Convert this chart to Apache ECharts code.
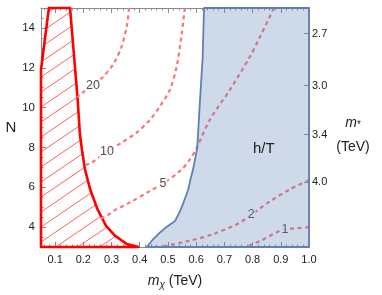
<!DOCTYPE html>
<html><head><meta charset="utf-8">
<script src="https://cdn.jsdelivr.net/npm/echarts@6/dist/echarts.min.js"></script>
<style>html,body{margin:0;padding:0;background:#fff}#c{width:382px;height:295px}</style>
</head><body><div id="c"></div>
<script>
// ---- data ----
const xTicks = [0.1,0.2,0.3,0.4,0.5,0.6,0.7,0.8,0.9,1.0];
const xMinor = [0.06,0.08,0.12,0.14,0.16,0.18,0.22,0.24,0.26,0.28,0.32,0.34,0.36,0.38,0.42,0.44,0.46,0.48,0.52,0.54,0.56,0.58,0.62,0.64,0.66,0.68,0.72,0.74,0.76,0.78,0.82,0.84,0.86,0.88,0.92,0.94,0.96,0.98];
const yTicks = [4,6,8,10,12,14];
const yMinor = [3.5,4.5,5,5.5,6.5,7,7.5,8.5,9,9.5,10.5,11,11.5,12.5,13,13.5,14.5];
const mStarLabels = [2.7,3.0,3.4,4.0];
const mStarN = [13.72,11.11,8.65,6.25]; // N positions of m* ticks

// excluded region (red hatched)
const redRegion = [[0.05,3],[0.05,11.9],[0.078,15],[0.153,15],[0.18,10.4],[0.188,8.65],[0.195,7.9],[0.206,6.9],[0.224,5.9],[0.25,4.9],[0.28,4.07],[0.312,3.57],[0.354,3.15],[0.395,3.0]];
// h/T region (blue)
const blueRegion = [[0.628,15],[0.623,12.5],[0.612,10],[0.604,8],[0.596,7.4],[0.589,6.9],[0.58,6.4],[0.572,5.9],[0.562,5.5],[0.555,5.23],[0.543,4.8],[0.532,4.5],[0.525,4.3],[0.505,4.1],[0.49,3.95],[0.472,3.73],[0.448,3.4],[0.425,3.0],[1.0,3.0],[1.0,15]];

// contour lines
const c20 = [[0.362,15],[0.355,14.15],[0.334,13.0],[0.305,12.15],[0.27,11.55],[0.234,11.1],[0.188,10.65],[0.178,10.5]];
const c10 = [[0.56,15],[0.549,13.73],[0.531,12.07],[0.507,10.9],[0.472,10.07],[0.437,9.4],[0.389,8.74],[0.337,8.25],[0.284,7.8],[0.231,7.25],[0.206,7.1]];
const c5 = [[0.876,15],[0.824,13.49],[0.791,12.57],[0.72,10.9],[0.649,9.4],[0.602,7.99],[0.578,7.4],[0.543,6.82],[0.482,6.19],[0.437,5.82],[0.366,5.24],[0.312,4.85],[0.283,4.57],[0.26,4.42]];
const c2 = [[1.0,6.35],[0.933,5.9],[0.862,5.3],[0.815,4.82],[0.795,4.65],[0.756,4.23],[0.661,3.65],[0.578,3.32],[0.472,3.0]];
const c1 = [[1.0,4.0],[0.95,3.93],[0.915,3.9],[0.886,3.74],[0.827,3.3],[0.773,3.0]];
const contourLabels = [[0.234,11.1,'20'],[0.284,7.8,'10'],[0.482,6.19,'5'],[0.795,4.65,'2'],[0.915,3.9,'1']];

// ---- chart ----
const chart = echarts.init(document.getElementById('c'), null, {renderer:'canvas'});
const FONT = 'Liberation Sans, Arial, sans-serif';
const frameCol = '#8a8a8a';

// hatch pattern
const pc = document.createElement('canvas');
pc.width = 22; pc.height = 15;
const g = pc.getContext('2d');
g.strokeStyle = 'rgba(255,60,60,0.9)'; g.lineWidth = 0.9;
g.beginPath();
g.moveTo(-2, 15 + 2*15/22); g.lineTo(24, -2*15/22);
g.moveTo(-2-22, 15 + 2*15/22); g.lineTo(24-22, -2*15/22);
g.moveTo(-2+22, 15 + 2*15/22); g.lineTo(24+22, -2*15/22);
g.stroke();

function polySeries(name, pts, style, z){
  return {
    type:'custom', name, z, silent:true,
    coordinateSystem:'cartesian2d', xAxisIndex:0, yAxisIndex:0,
    data:[0], clip:false,
    renderItem:(params, api)=>({
      type:'polygon',
      shape:{points: pts.map(p=>api.coord(p))},
      style
    })
  };
}
function contour(data){
  return {type:'line', data, z:2, symbol:'none', smooth:0.3, silent:true,
    lineStyle:{color:'rgb(248,118,118)', width:2.2, type:[4,3.5]}};
}
const tickBase = {inside:true, lineStyle:{color:frameCol, width:1}};

chart.setOption({
  animation:false,
  grid:{left:41, top:8, right:73, bottom:45, containLabel:false},
  xAxis:[
    {type:'value', min:0.05, max:1.0, position:'bottom',
     name:'{i|m}{s|χ} (TeV)', nameLocation:'middle', nameGap:26,
     nameTextStyle:{fontFamily:FONT, fontSize:14, color:'#222',
       rich:{i:{fontStyle:'italic', fontSize:14, fontFamily:FONT, color:'#222'}, s:{fontStyle:'italic', fontSize:10, fontFamily:FONT, color:'#222', padding:[7,0,0,0]}}},
     axisLine:{show:true, lineStyle:{color:frameCol}},
     axisTick:Object.assign({length:5, customValues:xTicks}, tickBase),
     axisLabel:{customValues:xTicks, formatter:v=>v.toFixed(1), fontFamily:FONT, fontSize:11, color:'#222', margin:7},
     splitLine:{show:false}},
    {type:'value', min:0.05, max:1.0, position:'top',
     axisLine:{show:true, lineStyle:{color:frameCol}},
     axisTick:Object.assign({length:5, customValues:xTicks}, tickBase),
     axisLabel:{show:false}, splitLine:{show:false}},
    {type:'value', min:0.05, max:1.0, position:'bottom',
     axisLine:{show:false}, axisTick:Object.assign({length:2.5, customValues:xMinor}, tickBase),
     axisLabel:{show:false}, splitLine:{show:false}},
    {type:'value', min:0.05, max:1.0, position:'top',
     axisLine:{show:false}, axisTick:Object.assign({length:2.5, customValues:xMinor}, tickBase),
     axisLabel:{show:false}, splitLine:{show:false}}
  ],
  yAxis:[
    {type:'value', min:3, max:15, position:'left',
     name:'N', nameLocation:'middle', nameRotate:0, nameGap:20,
     nameTextStyle:{fontFamily:FONT, fontSize:15, color:'#222'},
     axisLine:{show:true, lineStyle:{color:frameCol}},
     axisTick:Object.assign({length:5, customValues:yTicks}, tickBase),
     axisLabel:{customValues:yTicks, fontFamily:FONT, fontSize:11.5, color:'#222', margin:6},
     splitLine:{show:false}},
    {type:'value', min:3, max:15, position:'right',
     name:'{i|m}{s|*}\n(TeV)', nameLocation:'middle', nameRotate:0, nameGap:44,
     nameTextStyle:{fontFamily:FONT, fontSize:14, color:'#222', lineHeight:24, align:'center', padding:[16,0,0,0],
       rich:{i:{fontStyle:'italic', fontSize:14, fontFamily:FONT, color:'#222', lineHeight:24}, s:{fontSize:10, fontFamily:FONT, color:'#222', padding:[4,0,0,0], lineHeight:24}}},
     axisLine:{show:true, lineStyle:{color:frameCol}},
     axisTick:Object.assign({length:5, customValues:mStarN}, tickBase),
     axisLabel:{customValues:mStarN, fontFamily:FONT, fontSize:11, color:'#222', margin:3,
       formatter:v=>{let k=0,b=1e9; mStarN.forEach((n,i)=>{if(Math.abs(n-v)<b){b=Math.abs(n-v);k=i;}}); return mStarLabels[k].toFixed(1);}},
     splitLine:{show:false}},
    {type:'value', min:3, max:15, position:'left',
     axisLine:{show:false}, axisTick:Object.assign({length:2.5, customValues:yMinor}, tickBase),
     axisLabel:{show:false}, splitLine:{show:false}}
  ],
  graphic:[
    {type:'text', left:253, top:141, style:{text:'h/T', fontFamily:FONT, fontSize:15, fill:'#222'}, z:10}
  ],
  series:[
    polySeries('excluded', redRegion, {fill:{image:pc, repeat:'repeat'}, stroke:'#f00', lineWidth:2.6, lineJoin:'round'}, 1),
    contour(c20), contour(c10), contour(c5), contour(c2), contour(c1),
    {type:'scatter', z:2, symbolSize:0, silent:true,
     data:contourLabels.map(d=>({value:[d[0],d[1]], name:d[2]})),
     label:{show:true, position:'inside', formatter:p=>p.name, fontFamily:FONT, fontSize:12.5, color:'#222',
       backgroundColor:'#fff', padding:[0,1,0,1]}},
    polySeries('h/T', blueRegion, {fill:'rgba(94,129,181,0.3)', stroke:'rgb(96,128,180)', lineWidth:1.8, lineJoin:'round'}, 3)
  ]
});
</script></body></html>
